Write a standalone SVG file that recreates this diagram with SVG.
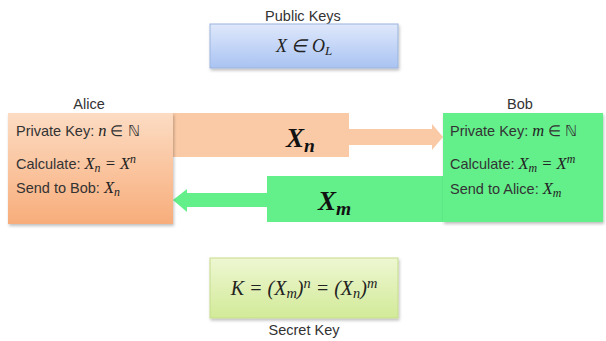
<svg xmlns="http://www.w3.org/2000/svg" width="606" height="341" viewBox="0 0 606 341">
<defs>
<linearGradient id="gBlue" x1="0" y1="0" x2="0" y2="1"><stop offset="0" stop-color="#dfe8fb"/><stop offset="1" stop-color="#a9c3f2"/></linearGradient>
<linearGradient id="gOrange" x1="0" y1="0" x2="0" y2="1"><stop offset="0" stop-color="#fcdcc3"/><stop offset="1" stop-color="#f8ad7b"/></linearGradient>
<linearGradient id="gLime" x1="0" y1="0" x2="0" y2="1"><stop offset="0" stop-color="#eef7d2"/><stop offset="1" stop-color="#d2ea98"/></linearGradient>
<filter id="sh" x="-10%" y="-10%" width="130%" height="130%"><feDropShadow dx="1" dy="2" stdDeviation="1.5" flood-color="#000" flood-opacity="0.25"/></filter>
</defs>
<style>
.lbl{font-family:"Liberation Sans",Arial,sans-serif;font-size:14.5px;fill:#333}
.tx{font-family:"Liberation Sans",Arial,sans-serif;font-size:14.5px;fill:#333}
.m{font-family:"Liberation Serif","Times New Roman",serif;font-style:italic;font-size:16.5px}
.mb{font-family:"Liberation Serif","Times New Roman",serif;font-style:italic;font-size:18px}
.mk{font-family:"Liberation Serif","Times New Roman",serif;font-style:italic;font-size:20px}
.big{font-family:"Liberation Serif","Times New Roman",serif;font-style:italic;font-weight:bold;font-size:27px;fill:#111}
.sub{font-size:72%}
</style>
<rect width="606" height="341" fill="#fff"/>
<g id="connectors">
<path d="M173 113 H349 V129 H432 V124 L443 137 L432 150 V145 H349 V157 H173 Z" fill="#fac9a5"/>
<text class="big" x="286" y="147">X<tspan class="sub" dy="5">n</tspan></text>
<path d="M443 176 H267 V193 H187 V189 L173 200 L187 212 V207 H267 V222 H443 Z" fill="#63f08b"/>
<text class="big" x="318" y="210">X<tspan class="sub" dy="5">m</tspan></text>
</g>
<g id="public">
<text class="lbl" x="303" y="21" text-anchor="middle">Public Keys</text>
<rect x="210" y="24" width="188" height="44" fill="url(#gBlue)" stroke="#9bb3dd" stroke-width="1" filter="url(#sh)"/>
<text class="mb" x="304" y="52" text-anchor="middle" fill="#222">X ∈ O<tspan class="sub" dy="3">L</tspan></text>
</g>
<g id="alice">
<text class="lbl" x="89" y="109" text-anchor="middle">Alice</text>
<rect x="8" y="113" width="165" height="111" fill="url(#gOrange)" filter="url(#sh)"/>
<text class="tx" x="16" y="136">Private Key: <tspan class="m" fill="#222">n</tspan> ∈ ℕ</text>
<text class="tx" x="16" y="169">Calculate:  <tspan class="m" fill="#222">X<tspan class="sub" dy="3">n</tspan><tspan dy="-3"> = X</tspan><tspan class="sub" dy="-6">n</tspan></tspan></text>
<text class="tx" x="16" y="193">Send to Bob: <tspan class="m" fill="#222">X<tspan class="sub" dy="3">n</tspan></tspan></text>
</g>
<g id="bob">
<text class="lbl" x="520" y="109" text-anchor="middle">Bob</text>
<rect x="443" y="113" width="160" height="109" fill="#63f08b" filter="url(#sh)"/>
<text class="tx" x="450" y="136">Private Key: <tspan class="m" fill="#222">m</tspan> ∈ ℕ</text>
<text class="tx" x="450" y="169">Calculate:  <tspan class="m" fill="#222">X<tspan class="sub" dy="3">m</tspan><tspan dy="-3"> = X</tspan><tspan class="sub" dy="-6">m</tspan></tspan></text>
<text class="tx" x="450" y="194">Send to Alice: <tspan class="m" fill="#222">X<tspan class="sub" dy="3">m</tspan></tspan></text>
</g>
<g id="secret">
<rect x="210" y="258" width="188" height="60" fill="url(#gLime)" stroke="#c5dc8c" stroke-width="1" filter="url(#sh)"/>
<text class="mk" x="304" y="295" text-anchor="middle" fill="#222">K = (X<tspan class="sub" dy="3">m</tspan><tspan dy="-3">)</tspan><tspan class="sub" dy="-7">n</tspan><tspan dy="7"> = (X</tspan><tspan class="sub" dy="3">n</tspan><tspan dy="-3">)</tspan><tspan class="sub" dy="-7">m</tspan></text>
<text class="lbl" x="304" y="335" text-anchor="middle">Secret Key</text>
</g>
</svg>
